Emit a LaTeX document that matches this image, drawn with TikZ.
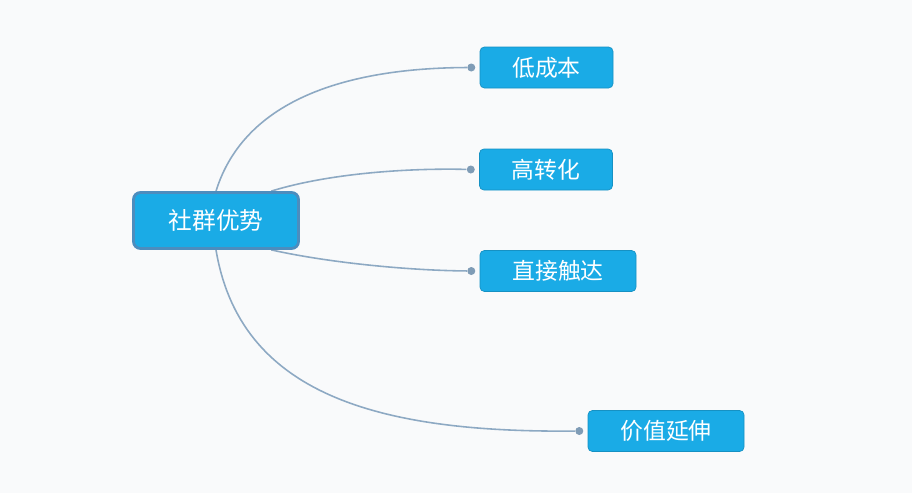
\documentclass[tikz,border=0pt]{standalone}
\usepackage{fontspec}
\newfontfamily\cjk{Noto Sans CJK SC}
\usepackage{xcolor}
\usepackage{tikz}
\usetikzlibrary{positioning, backgrounds, calc}
\definecolor{boxblue}{HTML}{1AABE6}
\definecolor{boxedge}{HTML}{4C8DBE}
\definecolor{linkgray}{HTML}{8DA9C3}
\definecolor{dotgray}{HTML}{7F9CB6}
\definecolor{paper}{HTML}{F9FAFB}
\tikzset{
  %% Central topic
  rootbox/.style={
    rectangle, rounded corners=4pt,
    draw=boxedge, fill=boxblue, line width=1.6pt,
    text=white, font=\cjk\fontsize{13.5}{16}\selectfont,
    minimum width=3.3cm, minimum height=1.12cm, inner sep=3pt
  },
  %% Sub topic
  subbox/.style={
    rectangle, rounded corners=2.5pt,
    draw=boxblue!85!black, fill=boxblue, line width=0.4pt,
    text=white, font=\cjk\fontsize{13}{16}\selectfont,
    minimum width=#1, minimum height=0.82cm, inner sep=3pt
  },
  subbox/.default=2.66cm,
  %% Small connector dot
  dotnode/.style={
    circle, fill=dotgray, inner sep=0pt, minimum size=0.16cm
  },
  %% Connector
  link/.style={draw=linkgray, line width=0.9pt},
}

\begin{document}
\begin{tikzpicture}

  %% Page
  \useasboundingbox (0,0) rectangle (18.24,9.86);

  %% Topics
  \node[rootbox] (root) at (4.32,5.45) {社群优势};
  \node[subbox]        (cost)   at (10.93,8.51) {低成本};
  \node[subbox]        (conv)   at (10.92,6.47) {高转化};
  \node[subbox=3.12cm] (reach)  at (11.16,4.44) {直接触达};
  \node[subbox=3.12cm] (extend) at (13.32,1.24) {价值延伸};

  %% Dots
  \node[dotnode, left=0.08cm of cost]   (dcost)   {};
  \node[dotnode, left=0.08cm of conv]   (dconv)   {};
  \node[dotnode, left=0.08cm of reach]  (dreach)  {};
  \node[dotnode, left=0.08cm of extend] (dextend) {};

  %% Connectors
  \begin{scope}[on background layer]
    \fill[paper] (0,0) rectangle (18.24,9.86);
    \draw[link] (root.north) .. controls (4.9,7.9) and (7.0,8.5) .. (dcost);
    \draw[link] (root.28) .. controls (6.6,6.4) and (8.2,6.5) .. (dconv);
    \draw[link] (root.-28) .. controls (6.6,4.6) and (8.2,4.45) .. (dreach);
    \draw[link] (root.south) .. controls (4.8,2.0) and (7.5,1.2) .. (dextend);
  \end{scope}

\end{tikzpicture}
\end{document}
